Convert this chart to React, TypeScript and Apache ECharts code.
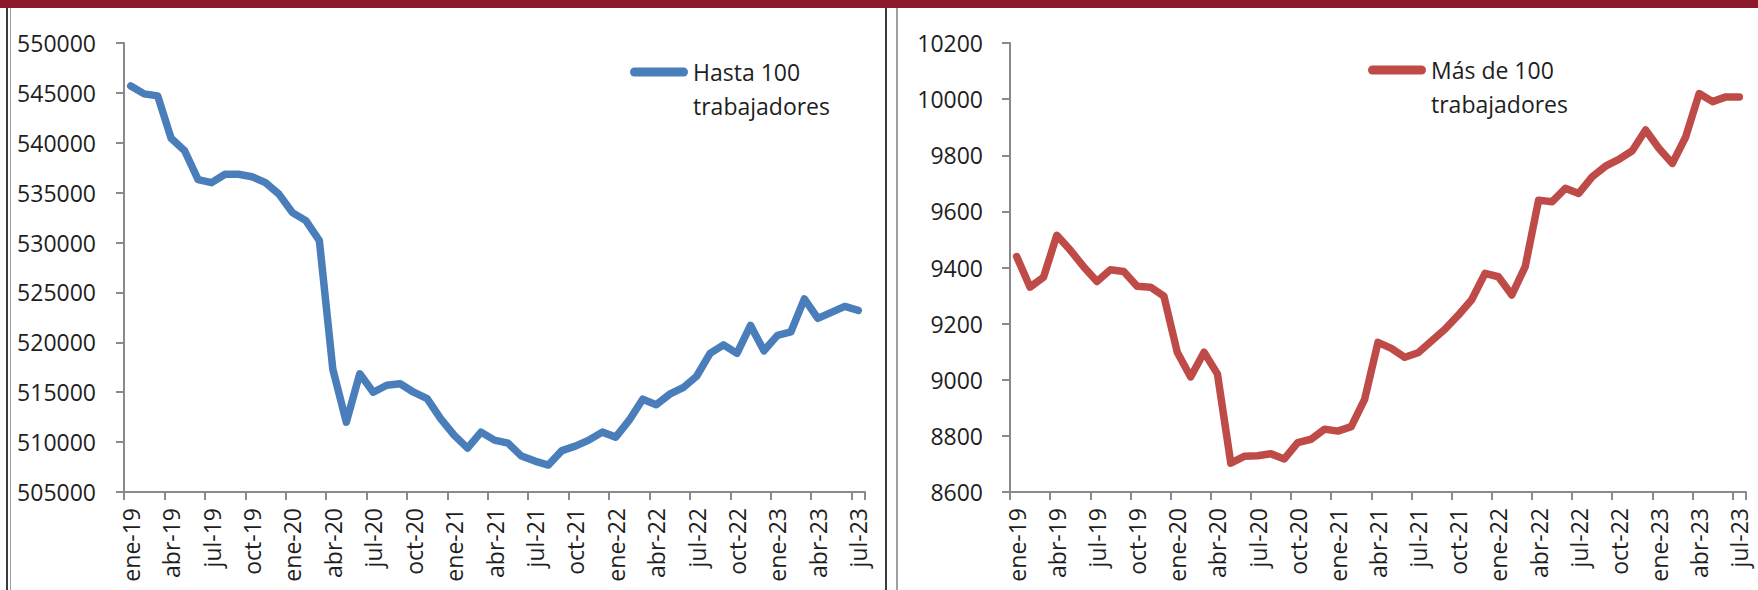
import React, { useEffect, useRef } from "react";
import * as echarts from "echarts";

const categories = [
  "ene-19", "feb-19", "mar-19", "abr-19", "may-19", "jun-19", "jul-19", "ago-19", "sep-19", "oct-19", "nov-19", "dic-19",
  "ene-20", "feb-20", "mar-20", "abr-20", "may-20", "jun-20", "jul-20", "ago-20", "sep-20", "oct-20", "nov-20", "dic-20",
  "ene-21", "feb-21", "mar-21", "abr-21", "may-21", "jun-21", "jul-21", "ago-21", "sep-21", "oct-21", "nov-21", "dic-21",
  "ene-22", "feb-22", "mar-22", "abr-22", "may-22", "jun-22", "jul-22", "ago-22", "sep-22", "oct-22", "nov-22", "dic-22",
  "ene-23", "feb-23", "mar-23", "abr-23", "may-23", "jun-23", "jul-23",
];

const hasta100 = [
  545700, 544900, 544700, 540450, 539200, 536300, 536000, 536850, 536850, 536600, 536000, 534850,
  533000, 532200, 530200, 517300, 512000, 516850, 515000, 515700, 515850, 515000, 514350, 512350,
  510700, 509400, 511000, 510200, 509900, 508600, 508100, 507700, 509150, 509600, 510200, 511000,
  510500, 512200, 514300, 513750, 514800, 515450, 516600, 518900, 519750, 518900, 521700, 519150,
  520700, 521050, 524350, 522400, 523000, 523600, 523200,
];

const mas100 = [
  9439, 9330, 9365, 9515, 9462, 9403, 9350, 9392, 9386, 9333, 9330, 9298,
  9098, 9010, 9098, 9021, 8703, 8727, 8729, 8736, 8718, 8776, 8788, 8824,
  8817, 8833, 8930, 9133, 9112, 9080, 9096, 9138, 9180, 9230, 9285, 9379,
  9367, 9302, 9403, 9640, 9634, 9682, 9664, 9723, 9761, 9785, 9816, 9890,
  9824, 9771, 9866, 10020, 9991, 10008, 10008,
];

const leftTicks = { min: 505000, max: 550000, interval: 5000 };
const rightTicks = { min: 8600, max: 10200, interval: 200 };

const NAME_LEFT = "Hasta 100\ntrabajadores";
const NAME_RIGHT = "Más de 100\ntrabajadores";

const FONT = "'Open Sans', sans-serif";
const FS = 23;
const AXIS = "#8a8a8a";
const TEXT = "#1e1e1e";
const BLUE = "#4A7EBB";
const RED = "#BE4B48";
const ICON = "path://M4.5,0L53.5,0A4.5,4.5,0,0,1,53.5,9L4.5,9A4.5,4.5,0,0,1,4.5,0Z";

function xAxis(gridIndex: number) {
  return {
    type: "category",
    gridIndex,
    data: categories,
    boundaryGap: true,
    axisLine: { show: true, lineStyle: { color: AXIS, width: 2 } },
    axisTick: { show: true, interval: 2, length: 8, lineStyle: { color: AXIS, width: 2 } },
    axisLabel: { interval: 2, rotate: 90, margin: 16, color: TEXT, fontFamily: FONT, fontSize: FS },
    splitLine: { show: false },
  };
}

function yAxis(gridIndex: number, t: { min: number; max: number; interval: number }, margin: number) {
  return {
    type: "value",
    gridIndex,
    min: t.min,
    max: t.max,
    interval: t.interval,
    axisLine: { show: true, lineStyle: { color: AXIS, width: 2 } },
    axisTick: { show: true, length: 8, lineStyle: { color: AXIS, width: 2 } },
    axisLabel: { margin, color: TEXT, fontFamily: FONT, fontSize: FS, formatter: (v: number) => String(v) },
    splitLine: { show: false },
  };
}

function legend(name: string, left: number, top: number) {
  return {
    data: [name],
    left,
    top,
    padding: 0,
    orient: "horizontal",
    itemWidth: 58,
    itemHeight: 9,
    icon: ICON,
    selectedMode: false,
    formatter: (n: string) => "\n" + n,
    textStyle: { fontFamily: FONT, fontSize: FS, color: TEXT, lineHeight: 34 },
  };
}

export default function App() {
  const ref = useRef<HTMLDivElement>(null);
  useEffect(() => {
    if (!ref.current) return;
    const chart = echarts.init(ref.current, null, { renderer: "svg" });
    chart.setOption({
      animation: false,
      backgroundColor: "#ffffff",
      grid: [
        { left: 124, top: 43, width: 741, height: 449, containLabel: false, outerBoundsMode: "none" },
        { left: 1010, top: 43, width: 736, height: 449, containLabel: false, outerBoundsMode: "none" },
      ],
      xAxis: [xAxis(0), xAxis(1)],
      yAxis: [yAxis(0, leftTicks, 28), yAxis(1, rightTicks, 27)],
      legend: [legend(NAME_LEFT, 630, 21), legend(NAME_RIGHT, 1368, 19)],
      series: [
        {
          type: "line",
          name: NAME_LEFT,
          xAxisIndex: 0,
          yAxisIndex: 0,
          data: hasta100,
          symbol: "none",
          itemStyle: { color: BLUE },
          lineStyle: { color: BLUE, width: 7.5, cap: "round", join: "round" },
        },
        {
          type: "line",
          name: NAME_RIGHT,
          xAxisIndex: 1,
          yAxisIndex: 1,
          data: mas100,
          symbol: "none",
          itemStyle: { color: RED },
          lineStyle: { color: RED, width: 7.5, cap: "round", join: "round" },
        },
      ],
      graphic: [
        { type: "rect", silent: true, shape: { x: 0, y: 0, width: 1758, height: 8 }, style: { fill: "#8B1A2B" } },
        { type: "rect", silent: true, shape: { x: 6, y: 8, width: 2, height: 582 }, style: { fill: "#3a3a3a" } },
        { type: "rect", silent: true, shape: { x: 10, y: 8, width: 1, height: 582 }, style: { fill: "#a0a0a0" } },
        { type: "rect", silent: true, shape: { x: 885, y: 8, width: 2, height: 582 }, style: { fill: "#3a3a3a" } },
        { type: "rect", silent: true, shape: { x: 896, y: 8, width: 2, height: 582 }, style: { fill: "#a0a0a0" } },
      ],
    });
    return () => chart.dispose();
  }, []);
  return (
    <div
      ref={ref}
      style={{ position: "fixed", left: 0, top: 0, width: 1758, height: 590, background: "#fff" }}
    />
  );
}
